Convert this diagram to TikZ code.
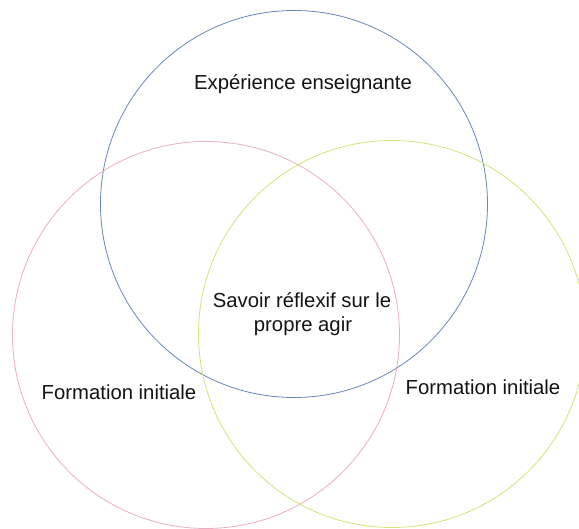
\documentclass[tikz,border=0pt]{standalone}
\usepackage{fontspec}
\setmainfont{Liberation Sans}
\definecolor{cblue}{RGB}{105,135,185}
\definecolor{cpink}{RGB}{232,175,195}
\definecolor{cgreen}{RGB}{210,228,120}
\definecolor{ctext}{RGB}{20,20,20}
\begin{document}
\begin{tikzpicture}[x=1pt,y=-1pt,
  ring/.style={circle,draw,line width=0.8pt,minimum size=387pt,inner sep=0pt},
  lbl/.style={text=ctext,font=\fontsize{20.3}{24}\selectfont,inner sep=0pt,anchor=base,align=center}]
\useasboundingbox (0,0) rectangle (579,529);
\fill[white] (0,0) rectangle (579,529);
\node[ring,draw=cblue] (blue) at (294,204) {};
\node[ring,draw=cpink] (pink) at (206,335) {};
\node[ring,draw=cgreen] (green) at (392,334) {};
\node[lbl] (exp) at (303,90) {Expérience enseignante};
\node[lbl] (sav1) at (302,308) {Savoir réflexif sur le};
\node[lbl] (sav2) at (303,332) {propre agir};
\node[lbl] (fl) at (119,400) {Formation initiale};
\node[lbl] (fr) at (483,395) {Formation initiale};
\end{tikzpicture}
\end{document}
